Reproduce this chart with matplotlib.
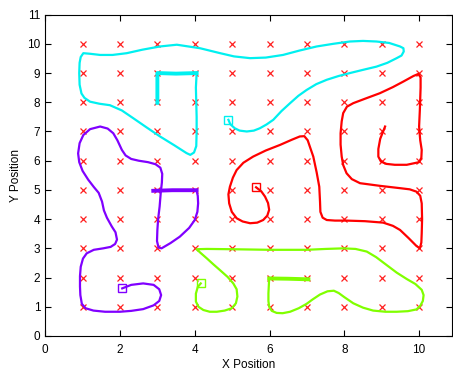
import matplotlib
matplotlib.use("Agg")
from matplotlib import pyplot as plt
import numpy as np

plt.rcParams['font.family'] = ['Liberation Sans', 'DejaVu Sans']

# grid of target positions
grid_x = np.arange(1, 11)
grid_y = np.arange(1, 11)

# cyan path (start at square)
cyan_x = [4.90, 4.95, 5.07, 5.20, 5.39, 5.58, 5.74, 5.92, 6.10, 6.32, 6.55, 6.77, 6.99,
          7.25, 7.53, 7.85, 8.15, 8.50, 8.86, 9.15, 9.40, 9.53, 9.59, 9.58, 9.49, 9.20,
          8.86, 8.50, 8.15, 7.70, 7.26, 6.80, 6.36, 5.90, 5.48, 5.05, 4.68, 4.14, 3.52,
          3.07, 2.60, 2.18, 1.80, 1.47, 1.20, 1.02, 0.95, 0.92, 0.91, 0.92, 0.97, 1.05,
          1.20, 1.45, 1.73, 2.05, 2.36, 2.70, 3.07, 3.45, 3.78, 3.88, 3.98, 4.04, 4.05,
          4.05, 4.03, 4.05]
cyan_y = [7.40, 7.25, 7.11, 7.03, 7.00, 7.03, 7.11, 7.24, 7.40, 7.70, 7.97, 8.22, 8.42,
          8.62, 8.77, 8.90, 9.00, 9.11, 9.22, 9.35, 9.51, 9.60, 9.74, 9.85, 9.91, 10.03,
          10.08, 10.10, 10.08, 10.00, 9.91, 9.77, 9.62, 9.53, 9.51, 9.57, 9.68, 9.85, 9.97,
          9.91, 9.80, 9.68, 9.62, 9.62, 9.66, 9.68, 9.55, 9.35, 9.00, 8.60, 8.30, 8.15,
          8.02, 7.95, 7.90, 7.72, 7.45, 7.15, 6.83, 6.53, 6.26, 6.20, 6.28, 6.50, 7.00,
          7.50, 8.50, 9.00]
cyan_end_x = [4.05, 3.50, 3.00, 3.00, 3.00]
cyan_end_y = [9.00, 8.98, 9.00, 8.50, 7.98]

# purple path
purple_x = [2.06, 2.30, 2.62, 2.90, 3.05, 3.10, 3.05, 2.90, 2.62, 2.30, 2.00, 1.60, 1.29,
            1.08, 0.98, 0.94, 0.93, 0.93, 0.95, 1.01, 1.11, 1.30, 1.55, 1.75, 1.87, 1.92,
            1.88, 1.78, 1.65, 1.57, 1.52, 1.43, 1.30, 1.15, 1.00, 0.91, 0.88, 0.92, 1.02,
            1.20, 1.47, 1.67, 1.82, 1.93, 2.05, 2.15, 2.30, 2.50, 2.75, 2.95, 3.08, 3.13,
            3.12, 3.09, 3.06, 3.02, 3.00, 2.99, 3.03, 3.11, 3.35, 3.60, 3.85, 4.00, 4.07,
            4.09, 4.08, 4.05]
purple_y = [1.63, 1.75, 1.80, 1.75, 1.60, 1.40, 1.20, 1.05, 0.92, 0.86, 0.83, 0.83, 0.87,
            0.95, 1.10, 1.40, 1.69, 2.05, 2.37, 2.65, 2.83, 2.95, 3.00, 3.05, 3.15, 3.30,
            3.55, 3.75, 4.05, 4.30, 4.60, 4.90, 5.10, 5.35, 5.65, 5.95, 6.25, 6.60, 6.88,
            7.08, 7.17, 7.10, 6.94, 6.70, 6.37, 6.18, 6.06, 6.00, 5.95, 5.88, 5.76, 5.55,
            5.25, 4.90, 4.43, 4.00, 3.63, 3.25, 3.03, 3.00, 3.18, 3.40, 3.70, 3.97, 4.25,
            4.54, 4.80, 4.97]
purple_end_x = [4.05, 3.40, 2.89]
purple_end_y = [4.99, 4.99, 4.97]

# red path
red_x = [5.64, 5.78, 5.88, 5.96, 5.99, 5.94, 5.83, 5.67, 5.48, 5.28, 5.12, 4.99, 4.92,
         4.90, 4.94, 5.02, 5.12, 5.30, 5.56, 5.90, 6.28, 6.60, 6.81, 6.93, 7.02, 7.10,
         7.17, 7.26, 7.33, 7.35, 7.36, 7.42, 7.53, 7.75, 8.06, 8.55, 9.04, 9.30, 9.49,
         9.72, 9.93, 10.02, 10.06, 10.07, 10.08, 10.07, 10.03, 9.93, 9.75, 9.49, 8.95,
         8.60, 8.42, 8.20, 8.06, 7.97, 7.93, 7.90, 7.90, 7.93, 7.97, 8.07, 8.24, 8.55,
         8.95, 9.30, 9.58, 9.85, 9.98, 10.04, 10.04, 10.02, 10.00, 10.03, 10.07, 10.06,
         10.00, 9.67, 9.35, 9.13, 8.98, 8.91, 8.91, 8.96, 9.09]
red_y = [5.09, 4.95, 4.77, 4.55, 4.32, 4.12, 3.97, 3.88, 3.86, 3.92, 4.03, 4.25, 4.54,
         4.85, 5.11, 5.42, 5.68, 5.93, 6.14, 6.35, 6.54, 6.72, 6.83, 6.84, 6.70, 6.40,
         6.14, 5.60, 5.11, 4.60, 4.25, 4.05, 3.97, 3.95, 3.95, 3.93, 3.88, 3.77, 3.63,
         3.35, 3.08, 3.00, 3.20, 3.52, 4.00, 4.54, 4.80, 4.94, 5.02, 5.06, 5.14,
         5.20, 5.23, 5.37, 5.57, 5.85, 6.14, 6.55, 6.94, 7.35, 7.63, 7.85, 7.97, 8.12,
         8.31, 8.52, 8.71, 8.90, 8.97, 8.85, 8.50, 7.74, 7.17, 6.70, 6.37, 6.10,
         5.95, 5.86, 5.86, 5.89, 5.97, 6.14, 6.40, 6.75, 7.17]

# green path
green_x = [4.16, 4.08, 4.03, 4.03, 4.10, 4.23, 4.40, 4.59, 4.80, 4.99, 5.10, 5.14, 5.12,
           5.03, 4.88, 4.67, 4.50, 4.32, 4.15, 4.05, 4.32, 5.00, 6.01, 6.99, 7.50, 7.97,
           8.30, 8.60, 8.85, 9.13, 9.40, 9.67, 9.90, 10.07, 10.12, 10.10, 10.03, 9.93,
           9.70, 9.40, 9.10, 8.77, 8.50, 8.24, 8.00, 7.85, 7.72, 7.55, 7.35, 7.15, 6.99,
           6.78, 6.55, 6.35, 6.19, 6.06, 5.99, 5.97, 5.97, 5.99]
green_y = [1.80, 1.68, 1.45, 1.18, 1.00, 0.89, 0.83, 0.83, 0.87, 0.95, 1.12, 1.35, 1.60,
           1.80, 2.02, 2.26, 2.45, 2.66, 2.85, 2.97, 2.98, 2.97, 2.95, 2.95, 2.98, 3.00,
           2.98, 2.89, 2.70, 2.43, 2.17, 1.95, 1.78, 1.58, 1.40, 1.20, 1.03, 0.91,
           0.85, 0.83, 0.83, 0.87, 0.97, 1.12, 1.33, 1.47, 1.55, 1.53, 1.42, 1.25, 1.10,
           0.95, 0.83, 0.78, 0.79, 0.86, 1.00, 1.20, 1.46, 1.97]
green_end_x = [5.99, 6.50, 7.04]
green_end_y = [1.97, 1.96, 1.94]

c_cyan = '#00f0f0'
c_purple = '#8000ff'
c_red = '#ff0000'
c_green = '#80ff00'

fig = plt.figure(figsize=(4.53, 3.75), dpi=100)
ax = fig.add_axes([0.0998, 0.104, 0.898, 0.857])

gx, gy = np.meshgrid(grid_x, grid_y)
ax.plot(gx.ravel(), gy.ravel(), 'x', color='#ff2020', markersize=4.5, mew=0.9, zorder=1)

for xs, ys, xe, ye, c in [(cyan_x, cyan_y, cyan_end_x, cyan_end_y, c_cyan),
                          (purple_x, purple_y, purple_end_x, purple_end_y, c_purple),
                          (red_x, red_y, None, None, c_red),
                          (green_x, green_y, green_end_x, green_end_y, c_green)]:
    ax.plot(xs, ys, '-', color=c, lw=1.6, solid_joinstyle='round', zorder=2)
    if xe is not None:
        ax.plot(xe, ye, '-', color=c, lw=2.8, zorder=2)
    ax.plot(xs[0], ys[0], 's', mfc='none', mec=c, markersize=5.5, mew=1.0, zorder=3)

ax.set_xlim(0, 10.88)
ax.set_ylim(0, 11)
ax.set_xticks(np.arange(0, 11, 2))
ax.set_yticks(np.arange(0, 12, 1))
ax.tick_params(direction='in', top=True, right=True, length=4, labelsize=8.5, width=0.8)
ax.tick_params(axis='x', pad=6)
for s in ax.spines.values():
    s.set_linewidth(0.8)
ax.set_xlabel('X Position', fontsize=8.5, labelpad=2)
ax.set_ylabel('Y Position', fontsize=8.5, labelpad=4)

fig.savefig('out.png', dpi=100)
